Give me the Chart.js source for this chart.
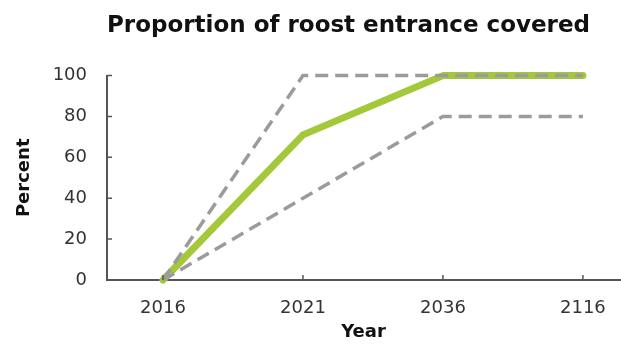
<!DOCTYPE html>
<html>
<head>
<meta charset="utf-8">
<script src="https://cdn.jsdelivr.net/npm/chart.js@4/dist/chart.umd.min.js"></script>
<style>
html,body{margin:0;padding:0;background:#fff;}
#wrap{width:621px;height:349px;}
</style>
</head>
<body>
<div id="wrap"><canvas id="c" width="621" height="349"></canvas></div>
<script>
const years = ['2016', '2021', '2036', '2116'];
const projected = [0, 71, 100, 100];
const upperBound = [0, 100, 100, 100];
const lowerBound = [0, 40, 80, 80];
const yTicks = [0, 20, 40, 60, 80, 100];

const toPts = arr => arr.map((v, i) => ({x: i, y: v}));

const innerTicks = {
  id: 'innerTicks',
  afterDraw(chart) {
    const ctx = chart.ctx;
    const xs = chart.scales.x, ys = chart.scales.y;
    ctx.save();
    ctx.strokeStyle = '#555';
    ctx.lineWidth = 1.5;
    ctx.beginPath();
    xs.ticks.forEach(t => {
      const px = xs.getPixelForValue(t.value);
      ctx.moveTo(px, ys.bottom); ctx.lineTo(px, ys.bottom - 5);
    });
    ys.ticks.forEach(t => {
      const py = ys.getPixelForValue(t.value);
      ctx.moveTo(xs.left, py); ctx.lineTo(xs.left + 5, py);
    });
    ctx.stroke();
    ctx.restore();
  }
};

const FONT = 'DejaVu Sans';

new Chart(document.getElementById('c'), {
  type: 'line',
  data: {
    datasets: [
      {data: toPts(upperBound), borderColor: '#9b9b9b', borderWidth: 3.5, borderDash: [13, 7], pointRadius: 0, tension: 0, borderCapStyle: 'butt', clip: false},
      {data: toPts(lowerBound), borderColor: '#9b9b9b', borderWidth: 3.5, borderDash: [13, 7], pointRadius: 0, tension: 0, borderCapStyle: 'butt', clip: false},
      {data: toPts(projected), borderColor: '#a3c93a', borderWidth: 7, pointRadius: 0, tension: 0, borderJoinStyle: 'round', borderCapStyle: 'round', clip: false}
    ]
  },
  options: {
    responsive: false,
    animation: false,
    layout: {padding: {left: 10, right: 1, top: 0, bottom: 2}},
    plugins: {
      legend: {display: false},
      tooltip: {enabled: false},
      title: {
        display: true,
        fullSize: false,
        align: 'start',
        text: 'Proportion of roost entrance covered',
        color: '#111',
        font: {family: FONT, size: 23, weight: 'bold', lineHeight: 1.2},
        padding: {top: 12, bottom: 36}
      }
    },
    scales: {
      x: {
        type: 'linear',
        min: -0.4,
        max: 3.265,
        afterBuildTicks(s) { s.ticks = years.map((_, i) => ({value: i})); },
        afterFit(s) { s.height = 67; s.paddingLeft = 0; s.paddingRight = 0; },
        grid: {display: false, drawTicks: false},
        border: {display: true, color: '#555', width: 2},
        ticks: {
          padding: 18,
          color: '#333',
          font: {family: FONT, size: 18},
          callback: (v) => years[v] ?? ''
        },
        title: {display: true, text: 'Year', color: '#111', font: {family: FONT, size: 18, weight: 'bold', lineHeight: 1.2}}
      },
      y: {
        min: 0,
        max: 100,
        afterBuildTicks(s) { s.ticks = yTicks.map(v => ({value: v})); },
        afterFit(s) { s.width = 97; },
        grid: {display: false, drawTicks: false},
        border: {display: true, color: '#555', width: 2},
        ticks: {
          padding: 20,
          color: '#333',
          font: {family: FONT, size: 18}
        },
        title: {display: true, text: 'Percent', color: '#111', font: {family: FONT, size: 18, weight: 'bold', lineHeight: 1.2}}
      }
    }
  },
  plugins: [innerTicks]
});
</script>
</body>
</html>
